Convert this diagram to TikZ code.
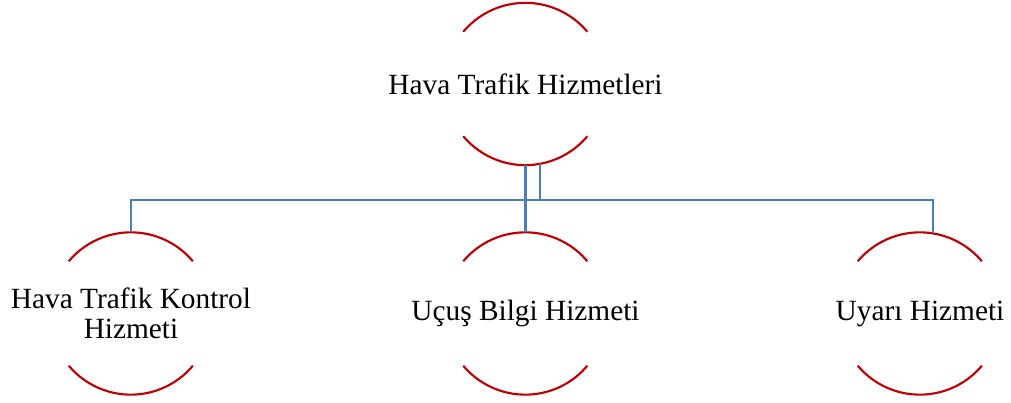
\documentclass[tikz,border=0pt]{standalone}
\usepackage{fontspec}
\setmainfont{Liberation Serif}
\definecolor{arcred}{HTML}{C00000}
\definecolor{linkblue}{HTML}{4A7EBB}

\begin{document}
\begin{tikzpicture}[x=0.75pt, y=0.75pt,
    unit/.style={circle, minimum size=121.5pt, inner sep=0pt},
    unittext/.style={align=center, inner sep=0pt,
      font=\fontsize{22}{22.5}\selectfont},
    halfarc/.style={arcred, line width=1.6pt},
    link/.style={linkblue, line width=1.6pt}]
      \useasboundingbox (0,0) rectangle (1011,403);
      \node[unit, label={[unittext]center:Hava Trafik Hizmetleri}] (hizmet) at (525.5, 319) {};
      \node[unit, label={[unittext]center:Hava Trafik Kontrol\\Hizmeti}] (kontrol) at (131, 89.5) {};
      \node[unit, label={[unittext]center:Uçuş Bilgi Hizmeti}] (bilgi) at (525.5, 89.5) {};
      \node[unit, label={[unittext]center:Uyarı Hizmeti}] (uyari) at (920, 89.5) {};
      \foreach \n in {hizmet, kontrol, bilgi, uyari} {
         \draw[halfarc] (\n.140) arc[start angle=140, end angle=40, radius=60.75pt];
         \draw[halfarc] (\n.220) arc[start angle=220, end angle=320, radius=60.75pt];
      }
      \coordinate (bus) at (hizmet.-80 |- 0,203);
      \draw[link] (hizmet.south) -- (bilgi.north);
      \draw[link] (bus) -| (kontrol.north);
      \draw[link] (hizmet.-80) -- (bus) -| (uyari.81);
   \end{tikzpicture}
\end{document}
